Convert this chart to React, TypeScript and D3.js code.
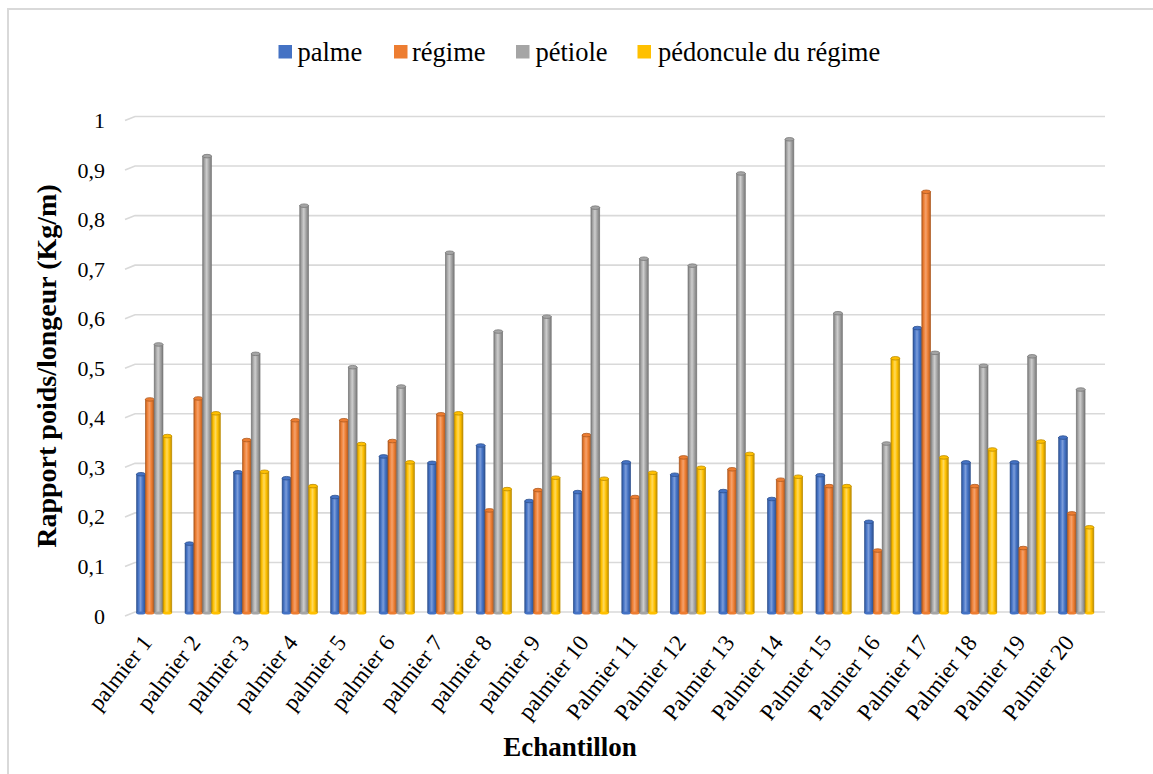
import React from "react";
import * as d3 from "d3";

const categories = [
  "palmier 1", "palmier 2", "palmier 3", "palmier 4", "palmier 5",
  "palmier 6", "palmier 7", "palmier 8", "palmier 9", "palmier 10",
  "Palmier 11", "Palmier 12", "Palmier 13", "Palmier 14", "Palmier 15",
  "Palmier 16", "Palmier 17", "Palmier 18", "Palmier 19", "Palmier 20",
];

const seriesNames = ["palme", "régime", "pétiole", "pédoncule du régime"];
const seriesColors = ["#4472C4", "#ED7D31", "#A5A5A5", "#FFC000"];
const seriesDark = ["#2F528F", "#AE5A21", "#787878", "#BC8C00"];
const seriesLight = ["#7C9DDA", "#F5A26C", "#CDCDCD", "#FFD95C"];

const palme = [0.278, 0.138, 0.282, 0.27, 0.232, 0.314, 0.301, 0.336, 0.224, 0.242,
  0.302, 0.277, 0.244, 0.228, 0.276, 0.182, 0.573, 0.302, 0.302, 0.352];
const regime = [0.429, 0.431, 0.347, 0.387, 0.387, 0.345, 0.399, 0.205, 0.246, 0.357,
  0.232, 0.312, 0.288, 0.267, 0.254, 0.124, 0.848, 0.254, 0.129, 0.199];
const petiole = [0.54, 0.92, 0.521, 0.82, 0.494, 0.455, 0.725, 0.566, 0.596, 0.816,
  0.713, 0.699, 0.885, 0.954, 0.603, 0.34, 0.523, 0.497, 0.516, 0.449];
const pedoncule = [0.355, 0.401, 0.283, 0.254, 0.339, 0.302, 0.401, 0.248, 0.271, 0.269,
  0.281, 0.291, 0.319, 0.273, 0.254, 0.512, 0.312, 0.328, 0.344, 0.171];

const seriesValues = [palme, regime, petiole, pedoncule];
const yTicks = [0, 0.1, 0.2, 0.3, 0.4, 0.5, 0.6, 0.7, 0.8, 0.9, 1];

const FONT = "'Liberation Serif', 'Times New Roman', serif";

export default function App() {
  const width = 1153;
  const height = 774;
  const y = d3.scaleLinear().domain([0, 1]).range([612, 116.5]);
  const x0 = d3.scaleBand<string>()
    .domain(categories)
    .range([129.9, 1100.5])
    .paddingInner(0.273)
    .paddingOuter(0.1365);
  const x1 = d3.scaleBand<string>()
    .domain(seriesNames)
    .range([0, x0.bandwidth()]);
  const bw = x1.bandwidth();
  const fmt = (v: number) => (v === 0 ? "0" : v === 1 ? "1" : d3.format(".1f")(v).replace(".", ","));
  const gridLeft = 125;
  const gridBack = 135;
  const gridRight = 1105;
  const depth = 4;
  const barBase = 1;

  const legend = [
    { sx: 278.5, tx: 297.5 },
    { sx: 394, tx: 412 },
    { sx: 516, tx: 535.5 },
    { sx: 637.5, tx: 658 },
  ];

  return (
    <svg width={width} height={height} fontFamily={FONT} style={{ display: "block", position: "absolute", left: 0, top: 0 }}>
      <defs>
        {seriesNames.map((s, i) => (
          <linearGradient key={s} id={`cyl${i}`} x1="0" x2="1" y1="0" y2="0">
            <stop offset="0" stopColor={seriesDark[i]} />
            <stop offset="0.2" stopColor={seriesColors[i]} />
            <stop offset="0.45" stopColor={seriesLight[i]} />
            <stop offset="0.7" stopColor={seriesColors[i]} />
            <stop offset="1" stopColor={seriesDark[i]} />
          </linearGradient>
        ))}
      </defs>
      <rect x={0} y={0} width={width} height={height} fill="#ffffff" />
      <rect x={8} y={9} width={1200} height={900} fill="none" stroke="#d9d9d9" strokeWidth={2} />

      {/* legend */}
      {legend.map((p, i) => (
        <g key={seriesNames[i]}>
          <rect x={p.sx} y={45} width={13.5} height={13.5} fill={seriesColors[i]} />
          <text x={p.tx} y={60.5} fontFamily={FONT} fontSize={26.5} fill="#000">{seriesNames[i]}</text>
        </g>
      ))}

      {/* gridlines */}
      {yTicks.map((t) => (
        <g key={t}>
          <path
            d={`M${gridLeft},${y(t) + depth} L${gridBack},${y(t)} L${gridRight},${y(t)}`}
            fill="none"
            stroke="#d9d9d9"
            strokeWidth={1.6}
          />
          <text x={105} y={y(t) + depth} dominantBaseline="central" textAnchor="end" fontFamily={FONT} fontSize={22} fill="#000">
            {fmt(t)}
          </text>
        </g>
      ))}

      {/* bars */}
      {categories.map((c, ci) => (
        <g key={c} transform={`translate(${x0(c)},0)`}>
          {seriesNames.map((s, si) => {
            const v = seriesValues[si][ci];
            const bx = x1(s) as number;
            const top = y(v);
            const bottom = y(0) + barBase;
            return (
              <g key={s}>
                <rect x={bx} y={top} width={bw} height={bottom - top} fill={`url(#cyl${si})`} stroke={seriesDark[si]} strokeWidth={0.6} />
                <ellipse cx={bx + bw / 2} cy={bottom} rx={bw / 2} ry={1.6} fill={seriesColors[si]} />
                <ellipse cx={bx + bw / 2} cy={top} rx={bw / 2} ry={1.8} fill={seriesColors[si]} stroke={seriesDark[si]} strokeWidth={0.8} />
              </g>
            );
          })}
        </g>
      ))}

      {/* x tick labels */}
      {categories.map((c) => {
        const cx = (x0(c) as number) + x0.bandwidth() / 2 - 1;
        const cy = 643;
        return (
          <text key={c} x={cx} y={cy} transform={`rotate(-52 ${cx} ${cy})`} textAnchor="end" fontFamily={FONT} fontSize={23} fill="#000">
            {c}
          </text>
        );
      })}

      {/* axis titles */}
      <text x={570} y={756} textAnchor="middle" fontFamily={FONT} fontWeight="bold" fontSize={27} fill="#000">Echantillon</text>
      <text x={0} y={0} transform={`translate(56,366) rotate(-90)`} textAnchor="middle" fontFamily={FONT} fontWeight="bold" fontSize={28} fill="#000">
        Rapport poids/longeur (Kg/m)
      </text>
    </svg>
  );
}
